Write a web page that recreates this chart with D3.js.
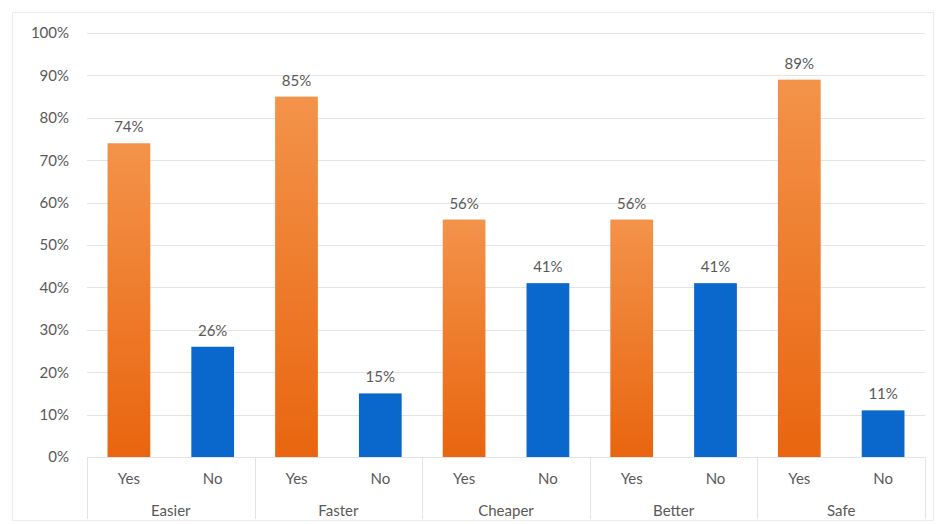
<!DOCTYPE html>
<html>
<head>
<meta charset="utf-8">
<script src="https://cdn.jsdelivr.net/npm/d3@7"></script>
<style>
  body { margin: 0; background: #fff; }
  text { font-family: Lato, "Open Sans", sans-serif; fill: #595959; }
</style>
</head>
<body>
<div id="chart"></div>
<script>
// data
const groups = ["Easier", "Faster", "Cheaper", "Better", "Safe"];
const answers = ["Yes", "No"];
const yesValues = [74, 85, 56, 56, 89];
const noValues = [26, 15, 41, 41, 11];
const yTicks = [0, 10, 20, 30, 40, 50, 60, 70, 80, 90, 100];

function makeChart() {
  let svgWidth = 937;
  let svgHeight = 524;
  let margin = { top: 33, right: 12, bottom: 67, left: 87 };

  let w = svgWidth - margin.left - margin.right;
  let h = svgHeight - margin.top - margin.bottom;

  let svg = d3.select("#chart")
    .append("svg")
    .attr("width", svgWidth)
    .attr("height", svgHeight);

  // outer frame
  svg.append("rect")
    .attr("x", 12.5).attr("y", 12.5)
    .attr("width", 921).attr("height", 508)
    .attr("fill", "none")
    .attr("stroke", "#ececec");

  let defs = svg.append("defs");
  let grad = defs.append("linearGradient")
    .attr("id", "orangeGrad")
    .attr("x1", 0).attr("y1", 0).attr("x2", 0).attr("y2", 1);
  grad.append("stop").attr("offset", "0%").attr("stop-color", "#f3934a");
  grad.append("stop").attr("offset", "100%").attr("stop-color", "#e9650f");

  let chartGroup = svg.append("g")
    .attr("transform", `translate(${margin.left}, ${margin.top})`);

  let x0 = d3.scaleBand().domain(groups).range([0, w]);
  let x1 = d3.scaleBand().domain(answers).range([0, x0.bandwidth()]).paddingInner(0.49).paddingOuter(0.245);
  let y = d3.scaleLinear().domain([0, 100]).range([h, 0]);

  // gridlines
  chartGroup.append("g")
    .selectAll("line")
    .data(yTicks)
    .enter()
    .append("line")
    .attr("x1", 0)
    .attr("x2", w)
    .attr("y1", d => Math.round(y(d)) + 0.5)
    .attr("y2", d => Math.round(y(d)) + 0.5)
    .attr("stroke", "#e4e4e4");

  // y axis labels
  let yAxis = d3.axisLeft(y).tickValues(yTicks).tickFormat(d => d + "%").tickSize(0).tickPadding(18);
  let yg = chartGroup.append("g").call(yAxis);
  yg.select(".domain").remove();
  yg.selectAll("text").attr("font-size", "15px").attr("fill", "#595959")
    .attr("font-family", "Lato, sans-serif");

  // group separators
  let bounds = groups.map(g => x0(g)).concat([w]);
  chartGroup.append("g")
    .selectAll("line")
    .data(bounds)
    .enter()
    .append("line")
    .attr("x1", d => Math.round(d) + 0.5)
    .attr("x2", d => Math.round(d) + 0.5)
    .attr("y1", h)
    .attr("y2", h + 62)
    .attr("stroke", "#e4e4e4");

  let rows = [];
  groups.forEach((g, i) => {
    rows.push({ group: g, answer: "Yes", value: yesValues[i] });
    rows.push({ group: g, answer: "No", value: noValues[i] });
  });

  // bars
  chartGroup.selectAll("rect.bar")
    .data(rows)
    .enter()
    .append("rect")
    .attr("class", "bar")
    .attr("x", d => x0(d.group) + x1(d.answer))
    .attr("y", d => y(d.value))
    .attr("width", x1.bandwidth())
    .attr("height", d => h - y(d.value))
    .attr("fill", d => d.answer === "Yes" ? "url(#orangeGrad)" : "#0a67cb");

  // value labels
  chartGroup.selectAll("text.val")
    .data(rows)
    .enter()
    .append("text")
    .attr("class", "val")
    .attr("x", d => x0(d.group) + x1(d.answer) + x1.bandwidth() / 2)
    .attr("y", d => y(d.value) - 11)
    .attr("text-anchor", "middle")
    .attr("font-size", "15px")
    .text(d => d.value + "%");

  // answer labels
  chartGroup.selectAll("text.ans")
    .data(rows)
    .enter()
    .append("text")
    .attr("class", "ans")
    .attr("x", d => x0(d.group) + x1(d.answer) + x1.bandwidth() / 2)
    .attr("y", h + 27)
    .attr("text-anchor", "middle")
    .attr("font-size", "15px")
    .text(d => d.answer);

  // group labels
  chartGroup.selectAll("text.grp")
    .data(groups)
    .enter()
    .append("text")
    .attr("class", "grp")
    .attr("x", d => x0(d) + x0.bandwidth() / 2)
    .attr("y", h + 59)
    .attr("text-anchor", "middle")
    .attr("font-size", "15px")
    .text(d => d);
}

makeChart();
</script>
</body>
</html>
